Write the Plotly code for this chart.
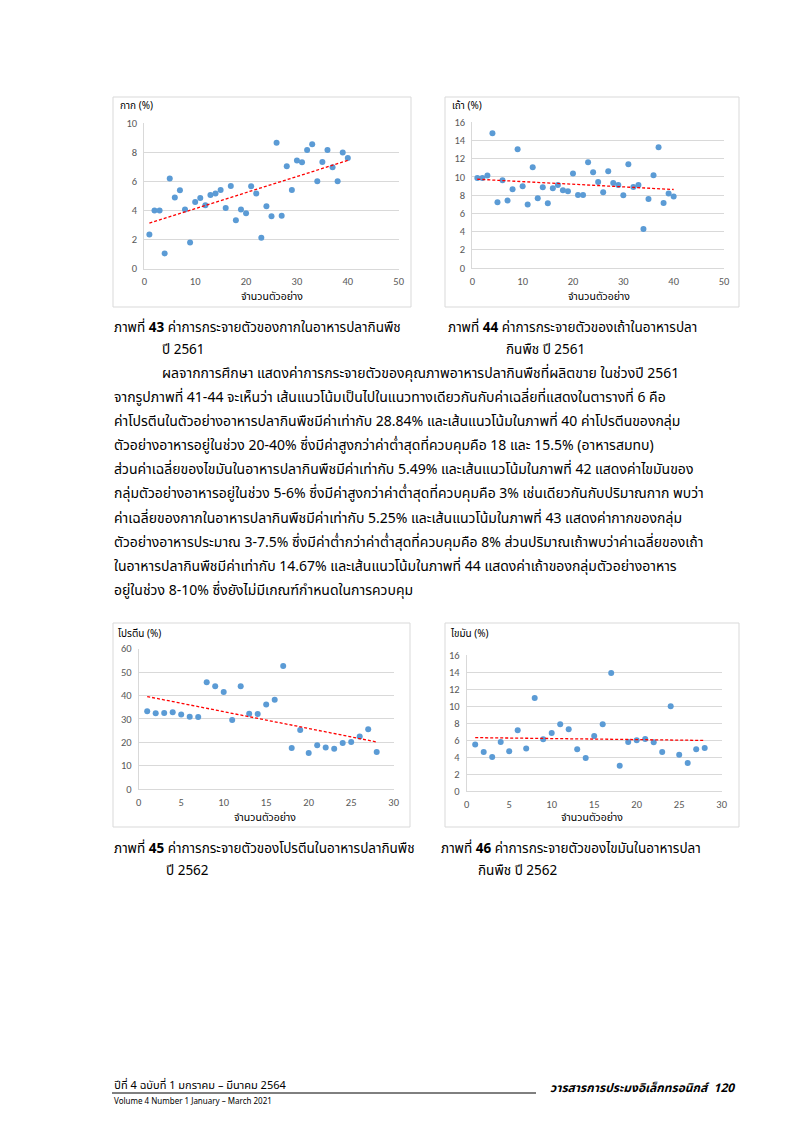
import numpy as np
import plotly.graph_objects as go

# page is 794x1123; browser body margin (8px) is compensated below
OFF = 8
W, H = 794 - OFF, 1123 - 2 * OFF

# ---------------- data ----------------
samples_40 = list(range(1, 41))
ash_residue_2561 = [2.36, 4.01, 4.01, 1.05, 6.20, 4.90, 5.39, 4.08, 1.81, 4.59,
                    4.86, 4.36, 5.07, 5.18, 5.41, 4.17, 5.69, 3.33, 4.08, 3.81,
                    5.67, 5.18, 2.13, 4.29, 3.60, 8.67, 3.65, 7.04, 5.41, 7.45,
                    7.32, 8.17, 8.56, 6.01, 7.34, 8.17, 6.97, 6.01, 8.00, 7.61]
ash_2561 = [9.89, 9.89, 10.15, 14.80, 7.22, 9.63, 7.40, 8.64, 13.04, 8.97,
            6.96, 11.06, 7.66, 8.86, 7.10, 8.75, 9.12, 8.53, 8.42, 10.37,
            8.02, 8.02, 11.61, 10.51, 9.45, 8.32, 10.62, 9.34, 9.12, 7.99,
            11.39, 8.90, 9.12, 4.29, 7.58, 10.18, 13.26, 7.14, 8.17, 7.84]
samples_28 = list(range(1, 29))
protein_2562 = [33.2, 32.4, 32.5, 32.8, 31.9, 30.9, 30.8, 45.6, 43.9, 41.5,
                29.5, 43.9, 32.2, 32.1, 36.1, 38.2, 52.6, 17.5, 25.2, 15.4,
                18.7, 17.8, 17.2, 19.7, 20.1, 22.4, 25.5, 15.8]
fat_2562 = [5.48, 4.62, 4.03, 5.79, 4.69, 7.16, 5.01, 10.95, 6.10, 6.85,
            7.86, 7.28, 4.93, 3.91, 6.49, 7.86, 13.89, 3.01, 5.79, 5.99,
            6.14, 5.75, 4.62, 9.98, 4.30, 3.33, 4.93, 5.09]

chart_titles = ["กาก (%)", "เถ้า (%)", "โปรตีน (%)", "ไขมัน (%)"]
x_title = "จำนวนตัวอย่าง"

# ---------------- layout helpers (page pixel -> paper) ----------------
def px(x):
    return (x - OFF) / W

def py(y):
    return 1 - (y - OFF) / H

THAI = "Noto Sans Thai, Loma, Garuda, Tahoma, sans-serif"

charts = [
    dict(box=(113, 97, 411, 307), plot=(144.3, 398.7, 268.7, 123.3), xr=50, yr=10, dx=10, dy=2,
         x=samples_40, y=ash_residue_2561, title=chart_titles[0], tpos=(118, 106), xtpos=(272, 297)),
    dict(box=(445, 97, 739, 307), plot=(472.3, 724.0, 268.0, 122.3), xr=50, yr=16, dx=10, dy=2,
         x=samples_40, y=ash_2561, title=chart_titles[1], tpos=(450, 106), xtpos=(599, 297)),
    dict(box=(113, 623, 410, 827), plot=(138.7, 393.7, 789.0, 648.7), xr=30, yr=60, dx=5, dy=10,
         x=samples_28, y=protein_2562, title=chart_titles[2], tpos=(116, 634), xtpos=(265, 818)),
    dict(box=(445, 623, 739, 827), plot=(466.7, 721.7, 791.3, 655.0), xr=30, yr=16, dx=5, dy=2,
         x=samples_28, y=fat_2562, title=chart_titles[3], tpos=(448, 634), xtpos=(592, 818)),
]

fig = go.Figure()
annotations = []
shapes = []
layout_axes = {}
TICKFONT = dict(family="Carlito, DejaVu Sans, sans-serif", size=10.5, color="#595959")

for i, c in enumerate(charts, start=1):
    xa = "x" if i == 1 else f"x{i}"
    ya = "y" if i == 1 else f"y{i}"
    xs = np.array(c["x"], dtype=float)
    ys = np.array(c["y"], dtype=float)
    fig.add_trace(go.Scatter(x=xs, y=ys, mode="markers", xaxis=xa, yaxis=ya,
                             marker=dict(color="#5b9bd5", size=6, symbol="circle"),
                             showlegend=False))
    m, b = np.polyfit(xs, ys, 1)
    tx = np.array([xs.min(), xs.max()])
    fig.add_trace(go.Scatter(x=tx, y=m * tx + b, mode="lines", xaxis=xa, yaxis=ya,
                             line=dict(color="#ff0000", width=1.3, dash="3px,2px"),
                             showlegend=False))
    x0, x1, yb, yt = c["plot"]
    layout_axes["xaxis" if i == 1 else f"xaxis{i}"] = dict(
        domain=[px(x0), px(x1)], range=[0, c["xr"]], dtick=c["dx"], tick0=0,
        anchor=ya, showgrid=False, zeroline=False, showline=True, linecolor="#d9d9d9",
        ticks="outside", ticklen=3, tickcolor="rgba(0,0,0,0)",
        tickfont=TICKFONT, automargin=False)
    layout_axes["yaxis" if i == 1 else f"yaxis{i}"] = dict(
        domain=[py(yb), py(yt)], range=[0, c["yr"]], dtick=c["dy"], tick0=0,
        anchor=xa, showgrid=True, gridcolor="#d9d9d9", gridwidth=1, zeroline=False,
        showline=True, linecolor="#d9d9d9", linewidth=1,
        ticks="outside", ticklen=4, tickcolor="rgba(0,0,0,0)",
        tickfont=TICKFONT, automargin=False)
    bx0, by0, bx1, by1 = c["box"]
    shapes.append(dict(type="rect", xref="paper", yref="paper",
                       x0=px(bx0), x1=px(bx1), y0=py(by1), y1=py(by0),
                       line=dict(color="#d9d9d9", width=1)))
    annotations.append(dict(text=c["title"], x=px(c["tpos"][0]), y=py(c["tpos"][1]),
                            xref="paper", yref="paper", xanchor="left", yanchor="middle",
                            showarrow=False, font=dict(family=THAI, size=10, color="#000000")))
    annotations.append(dict(text=x_title, x=px(c["xtpos"][0]), y=py(c["xtpos"][1]),
                            xref="paper", yref="paper", xanchor="center", yanchor="middle",
                            showarrow=False, font=dict(family=THAI, size=10.5, color="#000000")))

# ---------------- page text ----------------
def text(s, x, y, size=13.5, anchor="left", **kw):
    f = dict(family=THAI, size=size, color="#000000")
    f.update(kw.pop("font", {}))
    annotations.append(dict(text=s, x=px(x), y=py(y), xref="paper", yref="paper",
                            xanchor=anchor, yanchor="middle", showarrow=False, font=f, **kw))

text("ภาพที่ <b>43</b> ค่าการกระจายตัวของกากในอาหารปลากินพืช", 112, 328)
text("ปี 2561", 160, 350)
text("ภาพที่ <b>44</b> ค่าการกระจายตัวของเถ้าในอาหารปลา", 446, 328)
text("กินพืช ปี 2561", 504, 350)

para = [
    "ผลจากการศึกษา แสดงค่าการกระจายตัวของคุณภาพอาหารปลากินพืชที่ผลิตขาย ในช่วงปี 2561",
    "จากรูปภาพที่ 41-44 จะเห็นว่า เส้นแนวโน้มเป็นไปในแนวทางเดียวกันกับค่าเฉลี่ยที่แสดงในตารางที่ 6 คือ",
    "ค่าโปรตีนในตัวอย่างอาหารปลากินพืชมีค่าเท่ากับ 28.84% และเส้นแนวโน้มในภาพที่ 40 ค่าโปรตีนของกลุ่ม",
    "ตัวอย่างอาหารอยู่ในช่วง 20-40% ซึ่งมีค่าสูงกว่าค่าต่ำสุดที่ควบคุมคือ 18 และ 15.5% (อาหารสมทบ)",
    "ส่วนค่าเฉลี่ยของไขมันในอาหารปลากินพืชมีค่าเท่ากับ 5.49% และเส้นแนวโน้มในภาพที่ 42 แสดงค่าไขมันของ",
    "กลุ่มตัวอย่างอาหารอยู่ในช่วง 5-6% ซึ่งมีค่าสูงกว่าค่าต่ำสุดที่ควบคุมคือ 3% เช่นเดียวกันกับปริมาณกาก พบว่า",
    "ค่าเฉลี่ยของกากในอาหารปลากินพืชมีค่าเท่ากับ 5.25% และเส้นแนวโน้มในภาพที่ 43 แสดงค่ากากของกลุ่ม",
    "ตัวอย่างอาหารประมาณ 3-7.5% ซึ่งมีค่าต่ำกว่าค่าต่ำสุดที่ควบคุมคือ 8% ส่วนปริมาณเถ้าพบว่าค่าเฉลี่ยของเถ้า",
    "ในอาหารปลากินพืชมีค่าเท่ากับ 14.67% และเส้นแนวโน้มในภาพที่ 44 แสดงค่าเถ้าของกลุ่มตัวอย่างอาหาร",
    "อยู่ในช่วง 8-10% ซึ่งยังไม่มีเกณฑ์กำหนดในการควบคุม",
]
para_y = [373, 397, 421, 445, 469, 494, 518, 542, 566, 590]
for k, (s, yy) in enumerate(zip(para, para_y)):
    text(s, 160 if k == 0 else 112, yy, size=14)

text("ภาพที่ <b>45</b> ค่าการกระจายตัวของโปรตีนในอาหารปลากินพืช", 112, 849)
text("ปี 2562", 164, 871)
text("ภาพที่ <b>46</b> ค่าการกระจายตัวของไขมันในอาหารปลา", 439, 849)
text("กินพืช ปี 2562", 476, 871)

# footer
text("ปีที่ 4 ฉบับที่ 1 มกราคม – มีนาคม 2564", 112, 1085, size=11)
text("Volume 4 Number 1 January – March 2021", 112, 1102, size=8)
text("<b><i>วารสารการประมงอิเล็กทรอนิกส์  120</i></b>", 737, 1088, size=12, anchor="right")
shapes.append(dict(type="line", xref="paper", yref="paper", x0=px(112), x1=px(536),
                   y0=py(1093), y1=py(1093), line=dict(color="#000000", width=1)))

fig.update_layout(width=W, height=H, margin=dict(l=0, r=0, t=0, b=0, autoexpand=False),
                  paper_bgcolor="white", plot_bgcolor="white",
                  annotations=annotations, shapes=shapes, showlegend=False,
                  **layout_axes)

fig.write_html("out.html")
